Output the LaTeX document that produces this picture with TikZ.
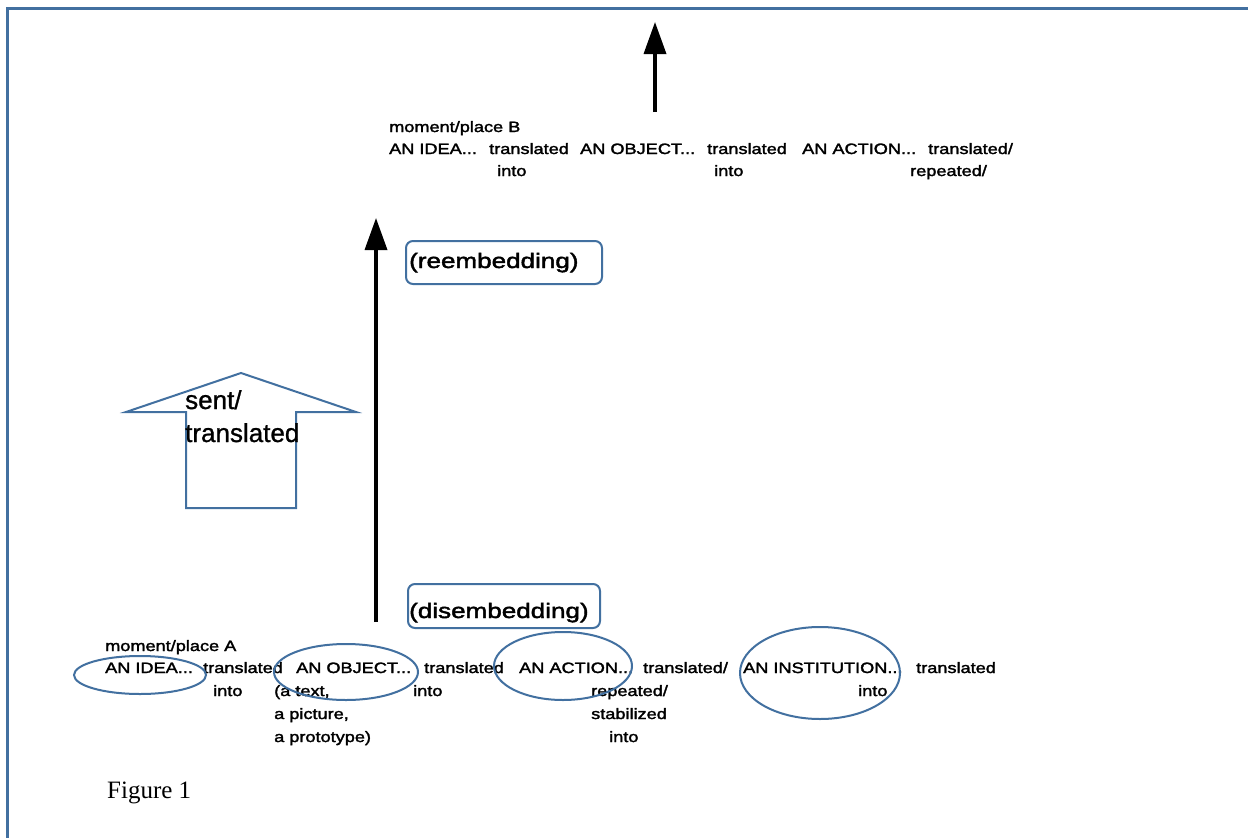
\documentclass[tikz,border=0pt]{standalone}
\usepackage{fontspec}
\setmainfont{Liberation Serif}
\newfontfamily\scanfont[FakeStretch=1.21,FakeBold=2]{Liberation Sans}
\newfontfamily\labelfont[FakeStretch=1.24,FakeBold=2]{Liberation Sans}
\newfontfamily\arrowfont[FakeBold=1]{Liberation Sans}
\usetikzlibrary{arrows.meta,shapes.geometric}
\definecolor{frameblue}{RGB}{66,112,160}
\begin{document}
\begin{tikzpicture}[x=1pt,y=-1pt,
  txt/.style={font=\scanfont\fontsize{15}{17}\selectfont, anchor=base west, inner sep=0pt},
  lbl/.style={font=\labelfont\fontsize{21}{23}\selectfont, anchor=base west, inner sep=0pt},
  sentlbl/.style={font=\arrowfont\fontsize{26}{28}\selectfont, anchor=base west, inner sep=0pt},
  ring/.style={draw=frameblue, line width=2pt, ellipse, inner sep=0pt},
  tag/.style={draw=frameblue, line width=2pt, rounded corners=7pt, anchor=north west, inner sep=0pt},
  bigarrow/.style={line width=3.5pt, -{Triangle[width=22pt,length=32pt]}},
  hollow/.style={draw=frameblue, line width=2pt, line join=miter}
]
\useasboundingbox (0,0) rectangle (1248,838);
\fill[white] (0,0) rectangle (1248,838);
% frame
\draw[frameblue, line width=3pt] (7.5,840) -- (7.5,8.5) -- (1250,8.5);

% top arrow
\coordinate (topbase) at (655,112);
\coordinate (toptip) at (655,22);
\draw[bigarrow] (topbase) -- (toptip);

% moment/place B
\node[txt] (mB) at (389,132) {moment/place B};
\node[txt] (bIdea) at (389,154) {AN IDEA...};
\node[txt] (bTr1) at (489,154) {translated};
\node[txt] (bObj) at (580,154) {AN OBJECT...};
\node[txt] (bTr2) at (707,154) {translated};
\node[txt] (bAct) at (802,154) {AN ACTION...};
\node[txt] (bTr3) at (928,154) {translated/};
\node[txt] (bInto1) at (497,176) {into};
\node[txt] (bInto2) at (714,176) {into};
\node[txt] (bRep) at (910,176) {repeated/};

% middle arrow
\coordinate (midbase) at (376,622);
\coordinate (midtip) at (376,218);
\draw[bigarrow] (midbase) -- (midtip);

% boxes
\node[tag, minimum width=196pt, minimum height=43pt] (rebox) at (405,240) {};
\node[lbl] (reemb) at (409,268) {(reembedding)};
\node[tag, minimum width=192pt, minimum height=44pt] (disbox) at (407,583) {};
\node[lbl] (disemb) at (409,618) {(disembedding)};

% hollow arrow
\draw[hollow] (241,373) -- (356,412) -- (296,412) -- (296,508) -- (186,508) -- (186,412) -- (126,412) -- cycle;
\node[sentlbl] (sent) at (185,409) {sent/};
\node[sentlbl] (transl) at (185,442) {translated};

% moment/place A
\node[txt] (mA) at (105,651) {moment/place A};
\node[txt] (aIdea) at (105,673) {AN IDEA...};
\node[txt] (aTr1) at (203,673) {translated};
\node[txt] (aObj) at (296,673) {AN OBJECT...};
\node[txt] (aTr2) at (424,673) {translated};
\node[txt] (aAct) at (519,673) {AN ACTION...};
\node[txt] (aTr3) at (643,673) {translated/};
\node[txt] (aInst) at (743,673) {AN INSTITUTION...};
\node[txt] (aTr4) at (916,673) {translated};
\node[txt] (aInto1) at (213,696) {into};
\node[txt] (aText) at (274,696) {(a text,};
\node[txt] (aInto2) at (413,696) {into};
\node[txt] (aRep) at (591,696) {repeated/};
\node[txt] (aInto4) at (858,696) {into};
\node[txt] (aPic) at (274,719) {a picture,};
\node[txt] (aStab) at (591,719) {stabilized};
\node[txt] (aProto) at (274,742) {a prototype)};
\node[txt] (aInto3) at (609,742) {into};

% ellipses
\node[ring, minimum width=132pt, minimum height=38pt] (eIdea) at (140,675) {};
\node[ring, minimum width=144pt, minimum height=56pt] (eObj) at (346,672) {};
\node[ring, minimum width=138pt, minimum height=68pt] (eAct) at (563,666) {};
\node[ring, minimum width=160pt, minimum height=92pt] (eInst) at (820,673) {};

% caption
\node[font=\fontsize{25}{27}\selectfont, anchor=base west, inner sep=0pt] (cap) at (107,798) {Figure 1};
\end{tikzpicture}
\end{document}
